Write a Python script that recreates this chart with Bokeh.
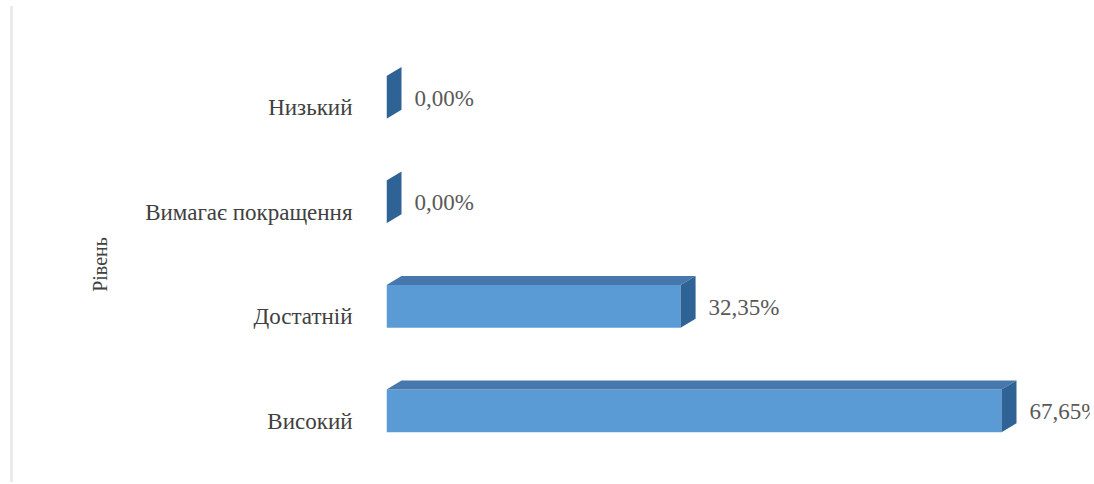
import numpy as np
from bokeh.plotting import figure
from bokeh.models import ColumnDataSource, FixedTicker, Range1d, Spacer
from bokeh.layouts import row
from bokeh.core.properties import value
from bokeh.embed import file_html
from bokeh.resources import INLINE

# ---- data (bottom to top) ----
categories = ["Високий", "Достатній", "Вимагає покращення", "Низький"]
percent = [67.65, 32.35, 0.00, 0.00]
label_text = ["67,65%", "32,35%", "0,00%", "0,00%"]
axis_title = "Рівень"

FONT = "Liberation Serif"
FRONT = "#5b9bd5"
TOP = "#4678ad"
SIDE = "#2f6295"

pos = np.arange(len(categories), dtype=float)
vals = np.array(percent)
off = 0.10      # bar centre relative to tick
h = 0.41        # bar thickness
dx = 1.65       # depth in x (data units)
dy = 0.086      # depth in y (data units)

bot = pos + off - h / 2
top = pos + off + h / 2

p = figure(width=1077, height=473, output_backend="svg", toolbar_location=None,
           x_axis_location=None, x_range=Range1d(0, 77.44), y_range=Range1d(-0.5, 3.5),
           min_border_left=373, min_border_right=0, min_border_top=55, min_border_bottom=0)
p.outline_line_color = None
p.grid.visible = False
p.background_fill_color = "white"
p.border_fill_color = "white"

front = ColumnDataSource(dict(left=np.zeros_like(vals), right=vals, bottom=bot, top=top))
p.quad(left="left", right="right", bottom="bottom", top="top", source=front,
       fill_color=FRONT, line_color=None)

top_xs = [[0.0, v, v + dx, dx] for v in vals]
top_ys = [[t, t, t + dy, t + dy] for t in top]
p.patches(xs=top_xs, ys=top_ys, fill_color=TOP, line_color=None)

side_xs = [[v, v, v + dx, v + dx] for v in vals]
side_ys = [[b, t, t + dy, b + dy] for b, t in zip(bot, top)]
p.patches(xs=side_xs, ys=side_ys, fill_color=SIDE, line_color=None)

lab = ColumnDataSource(dict(x=vals + dx, y=pos + off - 0.01, t=label_text))
p.text(x="x", y="y", text="t", source=lab, x_offset=13, text_baseline="middle",
       text_align="left", text_font=value(FONT), text_font_size="23px", text_color="#595959")

ax = p.yaxis[0]
ax.ticker = FixedTicker(ticks=list(pos))
ax.major_label_overrides = {float(i): c for i, c in zip(pos, categories)}
ax.axis_line_color = None
ax.major_tick_line_color = None
ax.minor_tick_line_color = None
ax.major_label_standoff = 28
ax.major_label_text_font = FONT
ax.major_label_text_font_size = "23px"
ax.major_label_text_color = "#404040"
ax.axis_label = axis_title
ax.axis_label_text_font = FONT
ax.axis_label_text_font_size = "20px"
ax.axis_label_text_font_style = "normal"
ax.axis_label_text_color = "#404040"
ax.axis_label_standoff = 31

edge = Spacer(width=3, height=476, margin=(6, 0, 0, 10), styles={"background-color": "#ebebeb"})
layout = row(edge, p)

open("out.html", "w").write(file_html(layout, INLINE))
